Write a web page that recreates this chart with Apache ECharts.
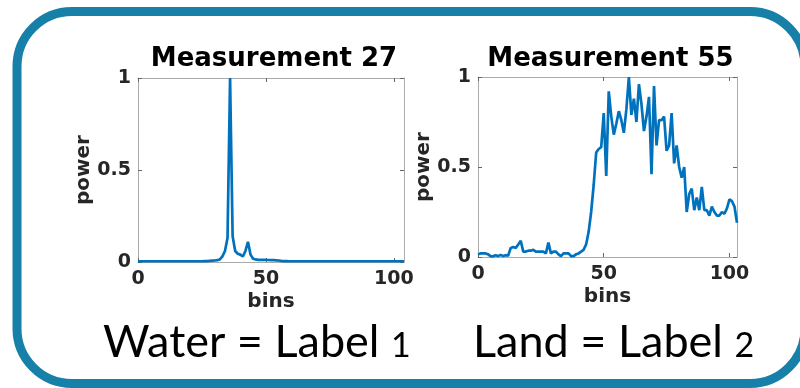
<!DOCTYPE html>
<html>
<head>
<meta charset="utf-8">
<script src="https://cdn.jsdelivr.net/npm/echarts@6/dist/echarts.min.js"></script>
<style>
html, body { margin: 0; padding: 0; background: #fff; }
#main { width: 800px; height: 388px; }
</style>
</head>
<body>
<div id="main"></div>
<script>
// Measurement 27 (water), bins 0..104
var waterPower = [
    0.004, 0.004, 0.004, 0.004, 0.004, 0.004, 0.004, 0.004, 0.004, 0.004,
    0.004, 0.004, 0.004, 0.004, 0.004, 0.004, 0.004, 0.004, 0.004, 0.004,
    0.004, 0.004, 0.004, 0.004, 0.004, 0.004, 0.005, 0.005, 0.006, 0.007,
    0.008, 0.010, 0.014, 0.030, 0.060, 0.130, 1.000, 0.140, 0.060, 0.045,
    0.040, 0.030, 0.060, 0.110, 0.040, 0.018, 0.014, 0.012, 0.012, 0.012,
    0.012, 0.011, 0.010, 0.010, 0.009, 0.008, 0.006, 0.005, 0.005, 0.004,
    0.004, 0.004, 0.004, 0.004, 0.004, 0.004, 0.004, 0.004, 0.004, 0.004,
    0.004, 0.004, 0.004, 0.004, 0.004, 0.004, 0.004, 0.004, 0.004, 0.004,
    0.004, 0.004, 0.004, 0.004, 0.004, 0.004, 0.004, 0.004, 0.004, 0.004,
    0.004, 0.004, 0.004, 0.004, 0.004, 0.004, 0.004, 0.004, 0.004, 0.004,
    0.004, 0.004, 0.004, 0.004, 0.004
];
// Measurement 55 (land), bins 0..103
var landPower = [
    0.015, 0.020, 0.020, 0.020, 0.015, 0.005, 0.004, 0.010, 0.005, 0.012,
    0.005, 0.010, 0.008, 0.050, 0.055, 0.050, 0.070, 0.090, 0.030, 0.030,
    0.035, 0.035, 0.040, 0.030, 0.030, 0.030, 0.030, 0.020, 0.080, 0.020,
    0.030, 0.030, 0.015, 0.005, 0.020, 0.020, 0.020, 0.005, 0.005, 0.015,
    0.020, 0.030, 0.040, 0.070, 0.140, 0.250, 0.400, 0.580, 0.600, 0.610,
    0.800, 0.450, 0.920, 0.780, 0.680, 0.740, 0.810, 0.760, 0.690, 0.820,
    1.000, 0.790, 0.880, 0.750, 0.960, 0.850, 0.700, 0.780, 0.890, 0.460,
    0.950, 0.620, 0.760, 0.760, 0.780, 0.590, 0.620, 0.800, 0.520, 0.620,
    0.500, 0.440, 0.500, 0.250, 0.350, 0.380, 0.260, 0.330, 0.260, 0.390,
    0.260, 0.260, 0.230, 0.280, 0.250, 0.230, 0.230, 0.250, 0.240, 0.270,
    0.320, 0.310, 0.280, 0.190
];
var titles = ['Measurement 27', 'Measurement 55'];
var captions = ['Water = Label ', 'Land = Label '];
var labelNums = ['1', '2'];
var xTicks = [0, 50, 100];
var yTicks = [0, 0.5, 1];

var boxColor = '#ababab';
var tickColor = '#666';
var lineBlue = '#0072bd';
var tickFont = { fontFamily: 'DejaVu Sans', fontWeight: 'bold', fontSize: 19, color: '#262626' };
var nameFont = { fontFamily: 'DejaVu Sans', fontWeight: 'bold', fontSize: 20, color: '#262626' };

var grids = [
    { left: 138, top: 78, width: 266, height: 184 },
    { left: 478, top: 77, width: 259, height: 180 }
];
var xMax = [104, 103];

function toPairs(arr) {
    return arr.map(function (v, i) { return [i, v]; });
}

var xAxes = [], yAxes = [];
grids.forEach(function (g, i) {
    xAxes.push({
        gridIndex: i, type: 'value', min: 0, max: xMax[i], position: 'bottom',
        name: 'bins', nameLocation: 'middle', nameGap: 30, nameTextStyle: nameFont,
        axisLine: { show: true, onZero: false, lineStyle: { color: boxColor } },
        axisTick: { inside: true, length: 4, customValues: xTicks, lineStyle: { color: tickColor } },
        axisLabel: Object.assign({ margin: 8, customValues: xTicks }, tickFont),
        splitLine: { show: false }
    });
    xAxes.push({
        gridIndex: i, type: 'value', min: 0, max: xMax[i], position: 'top',
        axisLine: { show: true, onZero: false, lineStyle: { color: boxColor } },
        axisTick: { inside: true, length: 4, customValues: xTicks, lineStyle: { color: tickColor } },
        axisLabel: { show: false },
        splitLine: { show: false }
    });
    yAxes.push({
        gridIndex: i, type: 'value', min: 0, max: 1, position: 'left',
        name: 'power', nameLocation: 'middle', nameGap: 44, nameRotate: 90, nameTextStyle: nameFont,
        axisLine: { show: true, onZero: false, lineStyle: { color: boxColor } },
        axisTick: { show: true, inside: true, length: 4, customValues: yTicks, lineStyle: { color: tickColor } },
        axisLabel: Object.assign({ margin: 7, customValues: yTicks }, tickFont),
        splitLine: { show: false }
    });
    yAxes.push({
        gridIndex: i, type: 'value', min: 0, max: 1, position: 'right',
        axisLine: { show: true, onZero: false, lineStyle: { color: boxColor } },
        axisTick: { show: true, inside: true, length: 4, customValues: yTicks, lineStyle: { color: tickColor } },
        axisLabel: { show: false },
        splitLine: { show: false }
    });
});

var chart = echarts.init(document.getElementById('main'));
chart.setOption({
    animation: false,
    backgroundColor: '#fff',
    title: titles.map(function (t, i) {
        return {
            text: t,
            left: grids[i].left + grids[i].width / 2 - 2,
            textAlign: 'center',
            top: 41,
            textStyle: { fontFamily: 'DejaVu Sans', fontWeight: 'bold', fontSize: 26, color: '#000' }
        };
    }),
    grid: grids,
    xAxis: xAxes,
    yAxis: yAxes,
    series: [
        {
            type: 'line', xAxisIndex: 0, yAxisIndex: 0, data: toPairs(waterPower),
            showSymbol: false, lineStyle: { color: lineBlue, width: 2.7 }
        },
        {
            type: 'line', xAxisIndex: 2, yAxisIndex: 2, data: toPairs(landPower),
            showSymbol: false, lineStyle: { color: lineBlue, width: 2.7 }
        }
    ],
    graphic: [
        {
            type: 'rect', z: -1,
            shape: { x: 17, y: 11.5, width: 788, height: 372, r: 55 },
            style: { fill: 'none', stroke: '#1680a9', lineWidth: 9 }
        },
        {
            type: 'text', x: 103, y: 365,
            style: {
                text: captions[0] + '{n|' + labelNums[0] + '}',
                fontFamily: 'Lato', fontSize: 45, fill: '#000', verticalAlign: 'bottom',
                rich: { n: { fontFamily: 'Lato', fontSize: 34, verticalAlign: 'bottom', padding: [0, 0, 2, 0] } }
            }
        },
        {
            type: 'text', x: 473, y: 365,
            style: {
                text: captions[1] + '{n|' + labelNums[1] + '}',
                fontFamily: 'Lato', fontSize: 45, fill: '#000', verticalAlign: 'bottom',
                rich: { n: { fontFamily: 'Lato', fontSize: 34, verticalAlign: 'bottom', padding: [0, 0, 2, 0] } }
            }
        }
    ]
});
</script>
</body>
</html>
